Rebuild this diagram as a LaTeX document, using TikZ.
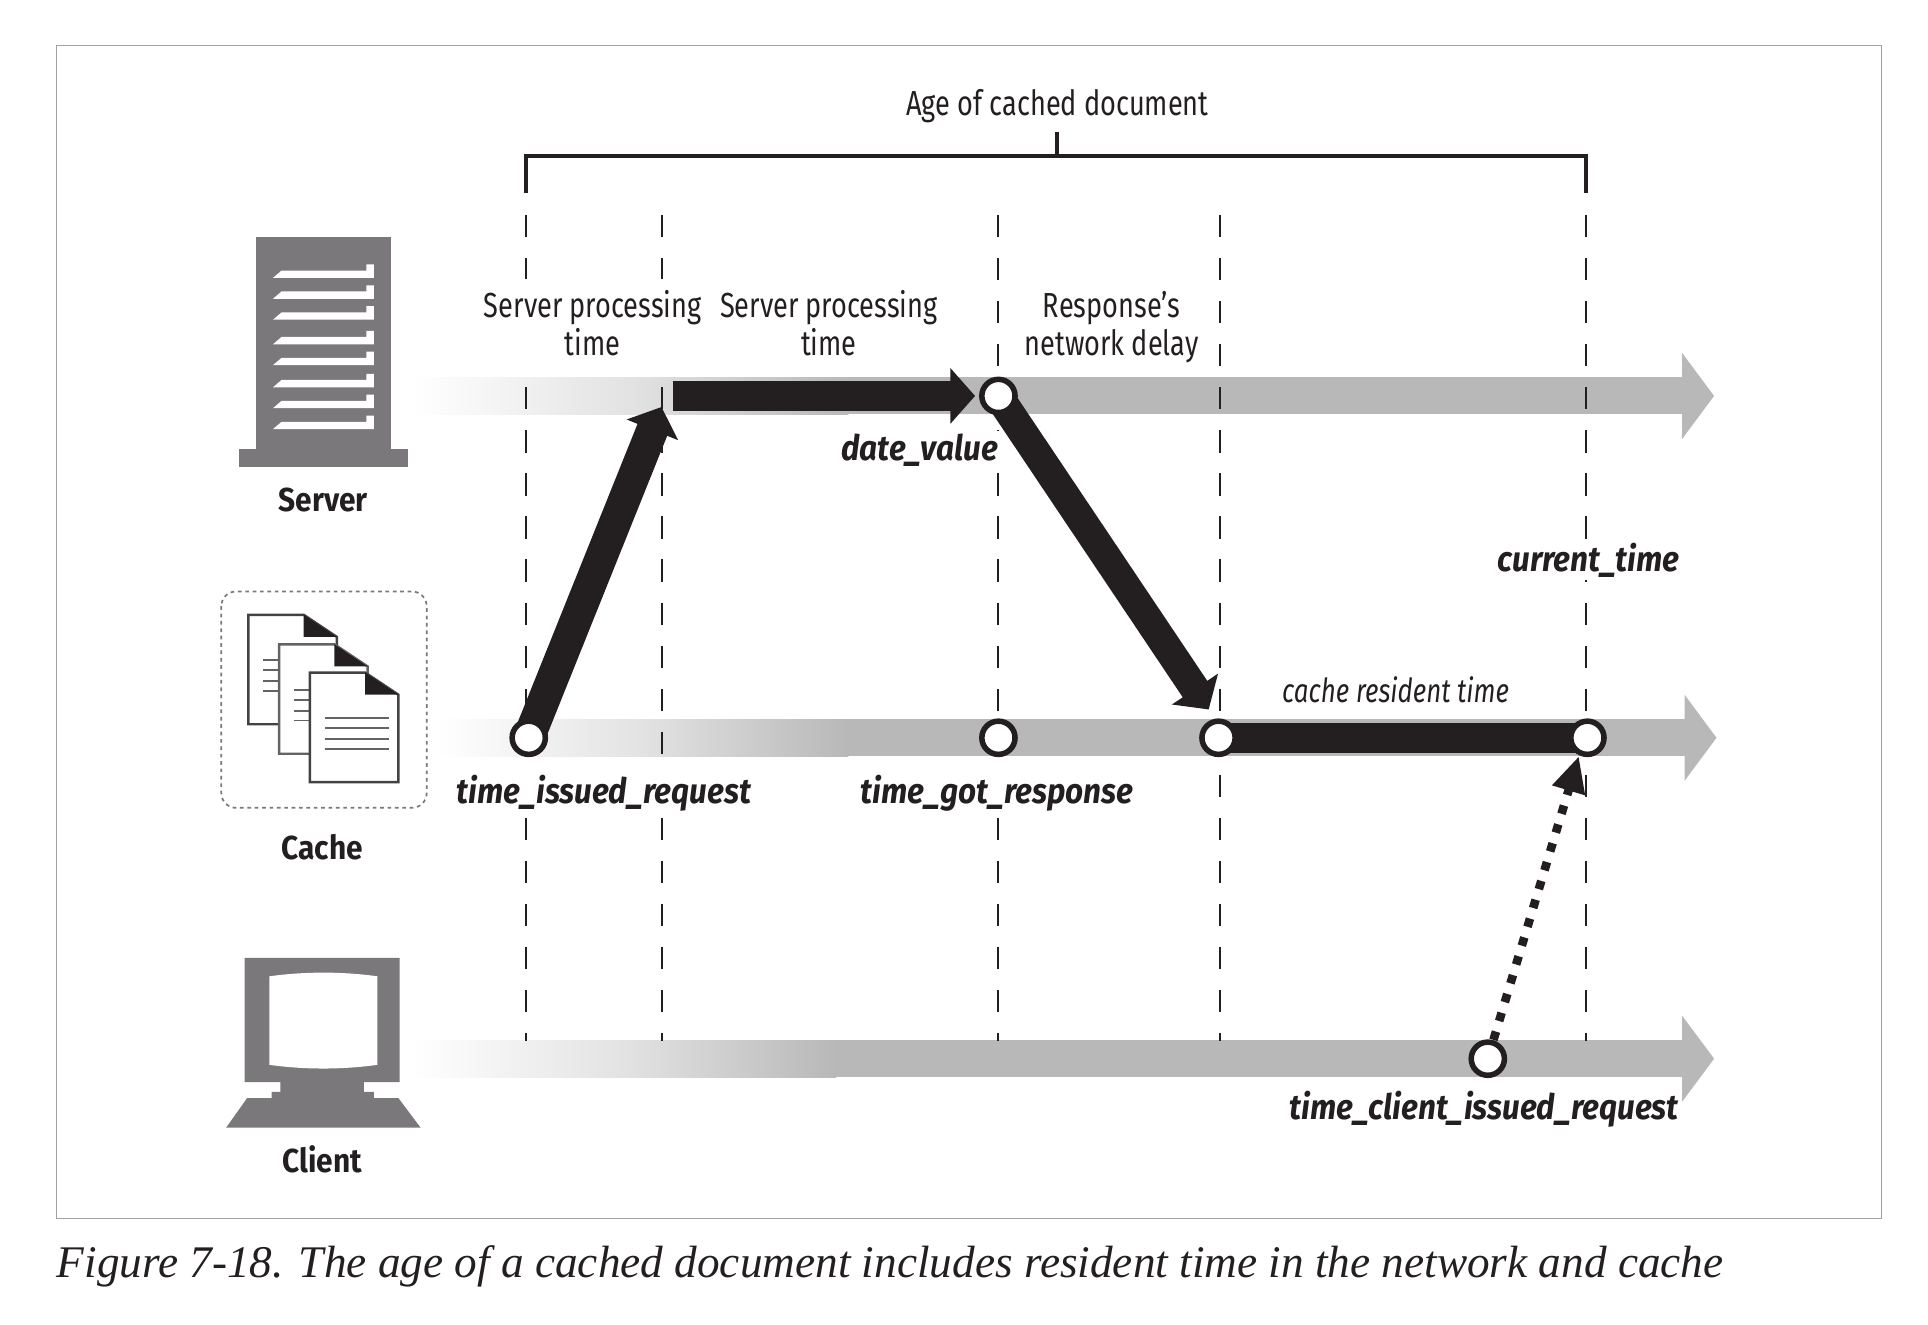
\documentclass[tikz,border=0pt]{standalone}
\usepackage{fontspec}
\usetikzlibrary{arrows.meta,backgrounds}
\newfontfamily\figfont[FakeStretch=0.78]{Fira Sans}
\newfontfamily\boldfont[FakeStretch=0.9]{Fira Sans}
\definecolor{barcolor}{HTML}{B8B8B8}
\definecolor{iconcolor}{HTML}{7A787A}
\definecolor{inkcolor}{HTML}{231F20}
\tikzset{
    plaintext/.style={font=\figfont\fontsize{28.3}{31}\selectfont,align=center,text=inkcolor,inner sep=2pt},
    fieldtext/.style={font=\boldfont\fontsize{28.5}{31}\selectfont\bfseries\itshape,text=inkcolor,fill=white,inner sep=2pt},
    hosttext/.style={font=\boldfont\fontsize{27}{31}\selectfont\bfseries,text=inkcolor},
    timedot/.style={circle,draw=inkcolor,fill=white,line width=4.5pt,minimum size=27pt,inner sep=0pt},
    timeline/.style={dash pattern=on 18pt off 17pt,line width=1.6pt,draw=inkcolor},
    flow/.style={draw=inkcolor,line width=24pt,-{Triangle[length=20pt,width=44pt]}}
}
\begin{document}
\begin{tikzpicture}[x=1pt,y=-1pt]
    \useasboundingbox (0,0) rectangle (1568,1077);
    \draw[iconcolor!70,line width=1.2pt] (46,37) rectangle (1530,991);

    % Time points
    \coordinate (reqin) at (538,331);
    \coordinate (procstart) at (547,322);
    \coordinate (procend) at (793,322);
    \coordinate (respin) at (983,577);
    \coordinate (curin) at (1284,615);
    \node[timedot] (issued) at (430,600) {};
    \node[timedot] (date) at (812,322) {};
    \node[timedot] (got) at (812,600) {};
    \node[timedot] (resident) at (991,600) {};
    \node[timedot] (current) at (1291,600) {};
    \node[timedot] (client) at (1210,861) {};

    \begin{scope}[on background layer]
        % Gray time bars
        \foreach \y/\start/\fade/\tip in {322/335/690/1368,600/355/690/1370,861/335/680/1368} {
            \shade[left color=white,right color=barcolor,middle color=barcolor!40!white] (\start,\y-15) rectangle (\fade,\y+15);
            \fill[barcolor] (\fade,\y-15) rectangle (\tip,\y+15);
            \fill[barcolor] (\tip,\y-35) -- (\tip+26,\y) -- (\tip,\y+35) -- cycle;
        }
        % Dashed time marks
        \foreach \x in {428,538,812,992,1290} {
            \draw[timeline] (\x,175) -- (\x,847);
        }
        % Document path
        \draw[flow,line width=26pt] (issued.center) -- (reqin);
        \draw[flow] (procstart) -- (procend);
        \draw[flow] (date.center) -- (respin);
        \draw[draw=inkcolor,line width=24pt] (resident.center) -- (current.center);
        \draw[draw=inkcolor,line width=7pt,dash pattern=on 7pt off 9pt,-{Triangle[length=29pt,width=26pt]}] (client.center) -- (curin);
    \end{scope}

    % Age bracket
    \node[plaintext] (age) at (860,86) {Age of cached document};
    \coordinate (agetick) at (860,107);
    \draw[inkcolor,line width=3.2pt] (428,157) -- (428,127) -- (1290,127) -- (1290,157);
    \draw[inkcolor,line width=3.2pt] (agetick) -- (860,127);

    % Labels
    \node[plaintext,fill=white,inner ysep=9pt] (proca) at (482,263) {Server processing\\time};
    \node[plaintext] (procb) at (674,263) {Server processing\\time};
    \node[plaintext] (delay) at (904,266) {Response’s\\network delay};
    \node[fieldtext,anchor=east] (datelabel) at (814,366) {date\_value};
    \node[fieldtext] (curlabel) at (1292,456) {current\_time};
    \node[plaintext,font=\figfont\itshape\fontsize{27}{31}\selectfont] (reslabel) at (1135,561) {cache resident time};
    \node[fieldtext] (issuedlabel) at (491,645) {time\_issued\_request};
    \node[fieldtext] (gotlabel) at (811,645) {time\_got\_response};
    \node[fieldtext] (clientlabel) at (1207,902) {time\_client\_issued\_request};

    % Server icon
    \fill[iconcolor] (208,193) rectangle (318,366);
    \fill[iconcolor] (194,365) rectangle (332,380);
    \foreach \y in {223,240,257,277,294,312,329,346} {
        \fill[white] (222,\y+3) -- (229,\y-3) -- (298,\y-3) -- (298,\y-8) -- (304,\y-8) -- (304,\y+3) -- cycle;
    }
    \node[hosttext] (server) at (263,407) {Server};

    % Cache icon
    \draw[iconcolor,line width=1.4pt,dash pattern=on 3pt off 3pt,rounded corners=12pt] (180,481) rectangle (347,657);
    \foreach \dx/\dy/\tone in {0/0/85,25/24/70,50/47/85} {
        \begin{scope}[shift={(\dx,\dy)}]
            \filldraw[fill=white,draw=inkcolor!\tone,line width=2pt] (202,500) -- (247,500) -- (274,518) -- (274,589) -- (202,589) -- cycle;
            \fill[inkcolor] (247,500) -- (274,518) -- (247,518) -- cycle;
            \foreach \ly in {537,545,554,562} {
                \draw[inkcolor!70,line width=1.4pt] (214,\ly) -- (266,\ly);
            }
        \end{scope}
    }
    \node[hosttext] (cache) at (262,689) {Cache};

    % Client icon
    \fill[iconcolor] (199,779) -- (325,779) -- (325,880) -- (296,880) -- (296,888) -- (304,888) -- (304,893) -- (324,893)
        -- (342,917) -- (184,917) -- (201,893) -- (221,893) -- (221,888) -- (228,888) -- (228,880) -- (199,880) -- cycle;
    \fill[white] (219,794) .. controls (248,790) and (278,790) .. (307,794) -- (307,866) .. controls (278,870) and (248,870) .. (219,866) -- cycle;
    \node[hosttext] (clientbox) at (262,943) {Client};

    % Caption
    \node[anchor=west,inner sep=0pt,text=inkcolor,font=\fontspec{Liberation Serif}\itshape\fontsize{36.8}{40}\selectfont] (caption) at (46,1030)
        {Figure 7-18. The age of a cached document includes resident time in the network and cache};
\end{tikzpicture}
\end{document}
